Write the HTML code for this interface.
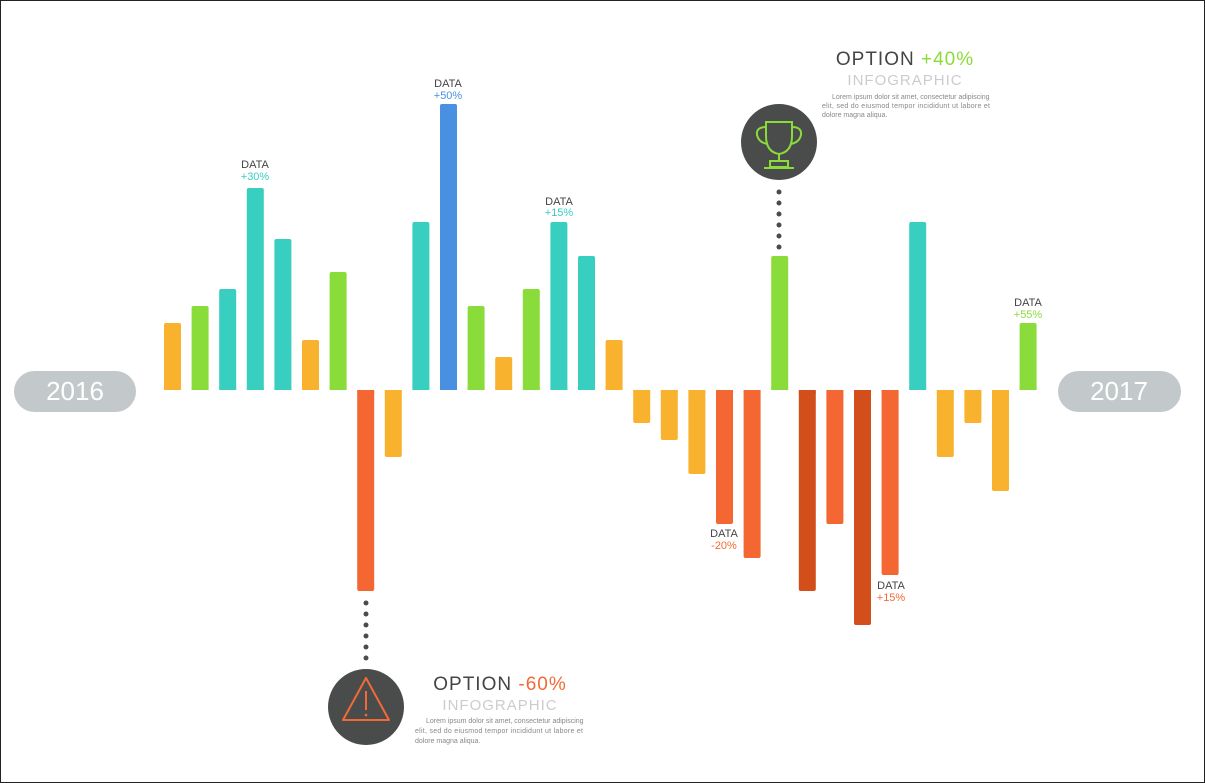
<!DOCTYPE html>
<html><head><meta charset="utf-8"><style>
body{margin:0;background:#fff}
svg{display:block}
text{font-family:"Liberation Sans",sans-serif}
</style></head><body>
<svg width="1205" height="783" viewBox="0 0 1205 783">
<rect x="0.5" y="0.5" width="1204" height="782" fill="#fff" stroke="#222" stroke-width="1"/>
<rect x="14" y="371" width="122" height="41" rx="20.5" fill="#c3c9ca"/>
<text x="75" y="400" font-size="26" fill="#fff" text-anchor="middle">2016</text>
<rect x="1058" y="371" width="123" height="41" rx="20.5" fill="#c3c9ca"/>
<text x="1119" y="400" font-size="26" fill="#fff" text-anchor="middle">2017</text>
<g id="bars"></g>
<g fill="#4a4c4c">
<circle cx="366" cy="603" r="2.5"/><circle cx="366" cy="614" r="2.5"/><circle cx="366" cy="625" r="2.5"/><circle cx="366" cy="636" r="2.5"/><circle cx="366" cy="647" r="2.5"/><circle cx="366" cy="658" r="2.5"/>
<circle cx="779" cy="192" r="2.5"/><circle cx="779" cy="203" r="2.5"/><circle cx="779" cy="214" r="2.5"/><circle cx="779" cy="225" r="2.5"/><circle cx="779" cy="236" r="2.5"/><circle cx="779" cy="247" r="2.5"/>
<circle cx="366" cy="707" r="38"/><circle cx="779" cy="142" r="38"/>
</g>
<path d="M366 678 L389 720 L343 720 Z" fill="none" stroke="#f26a35" stroke-width="2" stroke-linejoin="round"/>
<line x1="366" y1="691" x2="366" y2="710" stroke="#f26a35" stroke-width="2"/>
<circle cx="366" cy="715" r="1.3" fill="#f26a35"/>
<g fill="none" stroke="#8adc3a" stroke-width="2">
<path d="M766 122 H792 V136 Q792 152 779 154 Q766 152 766 136 Z"/>
<path d="M766 127 Q756 127 757 135 Q759 143 768 144"/>
<path d="M792 127 Q802 127 801 135 Q799 143 790 144"/>
<line x1="779" y1="154" x2="779" y2="161"/>
<rect x="770" y="161" width="18" height="6"/>
<line x1="764" y1="168" x2="794" y2="168"/>
</g>
<g font-size="11" text-anchor="middle">
<text x="255" y="168" fill="#444">DATA</text><text x="255" y="180" fill="#38cfc0">+30%</text>
<text x="448" y="87" fill="#444">DATA</text><text x="448" y="99" fill="#4a90e2">+50%</text>
<text x="559" y="205" fill="#444">DATA</text><text x="559" y="216" fill="#38cfc0">+15%</text>
<text x="724" y="537" fill="#444">DATA</text><text x="724" y="549" fill="#f26a35">-20%</text>
<text x="891" y="589" fill="#444">DATA</text><text x="891" y="601" fill="#f26a35">+15%</text>
<text x="1028" y="306" fill="#444">DATA</text><text x="1028" y="318" fill="#8adc3a">+55%</text>
</g>
<g text-anchor="middle">
<text x="500" y="690" font-size="19" fill="#444" letter-spacing="1">OPTION <tspan fill="#f26a35">-60%</tspan></text>
<text x="500" y="710" font-size="15" fill="#ccc" letter-spacing="1">INFOGRAPHIC</text>
<text x="905" y="65" font-size="19" fill="#444" letter-spacing="1">OPTION <tspan fill="#8adc3a">+40%</tspan></text>
<text x="905" y="85" font-size="15" fill="#ccc" letter-spacing="1">INFOGRAPHIC</text>
</g>
<g font-size="7" fill="#888">
<text x="426" y="723">Lorem ipsum dolor sit amet, consectetur adipiscing</text>
<text x="415" y="733" textLength="168">elit, sed do eiusmod tempor incididunt ut labore et</text>
<text x="415" y="743">dolore magna aliqua.</text>
<text x="832" y="99">Lorem ipsum dolor sit amet, consectetur adipiscing</text>
<text x="822" y="108" textLength="168">elit, sed do eiusmod tempor incididunt ut labore et</text>
<text x="822" y="117">dolore magna aliqua.</text>
</g>
</svg>
<script>
var O="#f8b22e",G="#8adc3a",T="#38cfc0",R="#f46732",D="#d24f1b",B="#4a90e2";
var d=[[O,323],[G,306],[T,289],[T,188],[T,239],[O,340],[G,272],[R,591],[O,457],[T,222],[B,104],[G,306],[O,357],[G,289],[T,222],[T,256],[O,340],[O,423],[O,440],[O,474],[R,524],[R,558],[G,256],[D,591],[R,524],[D,625],[R,575],[T,222],[O,457],[O,423],[O,491],[G,323]];
var g=document.getElementById("bars"),s="";
d.forEach(function(b,i){var x=164+i*27.6,y=390,v=b[1];
if(v<y){s+='<rect x="'+x+'" y="'+v+'" width="17" height="'+(y-v)+'" rx="2" fill="'+b[0]+'"/><rect x="'+x+'" y="'+(y-3)+'" width="17" height="3" fill="'+b[0]+'"/>';}
else{s+='<rect x="'+x+'" y="'+y+'" width="17" height="'+(v-y)+'" rx="2" fill="'+b[0]+'"/><rect x="'+x+'" y="'+y+'" width="17" height="3" fill="'+b[0]+'"/>';}
});
g.innerHTML=s;
</script>
</body></html>
